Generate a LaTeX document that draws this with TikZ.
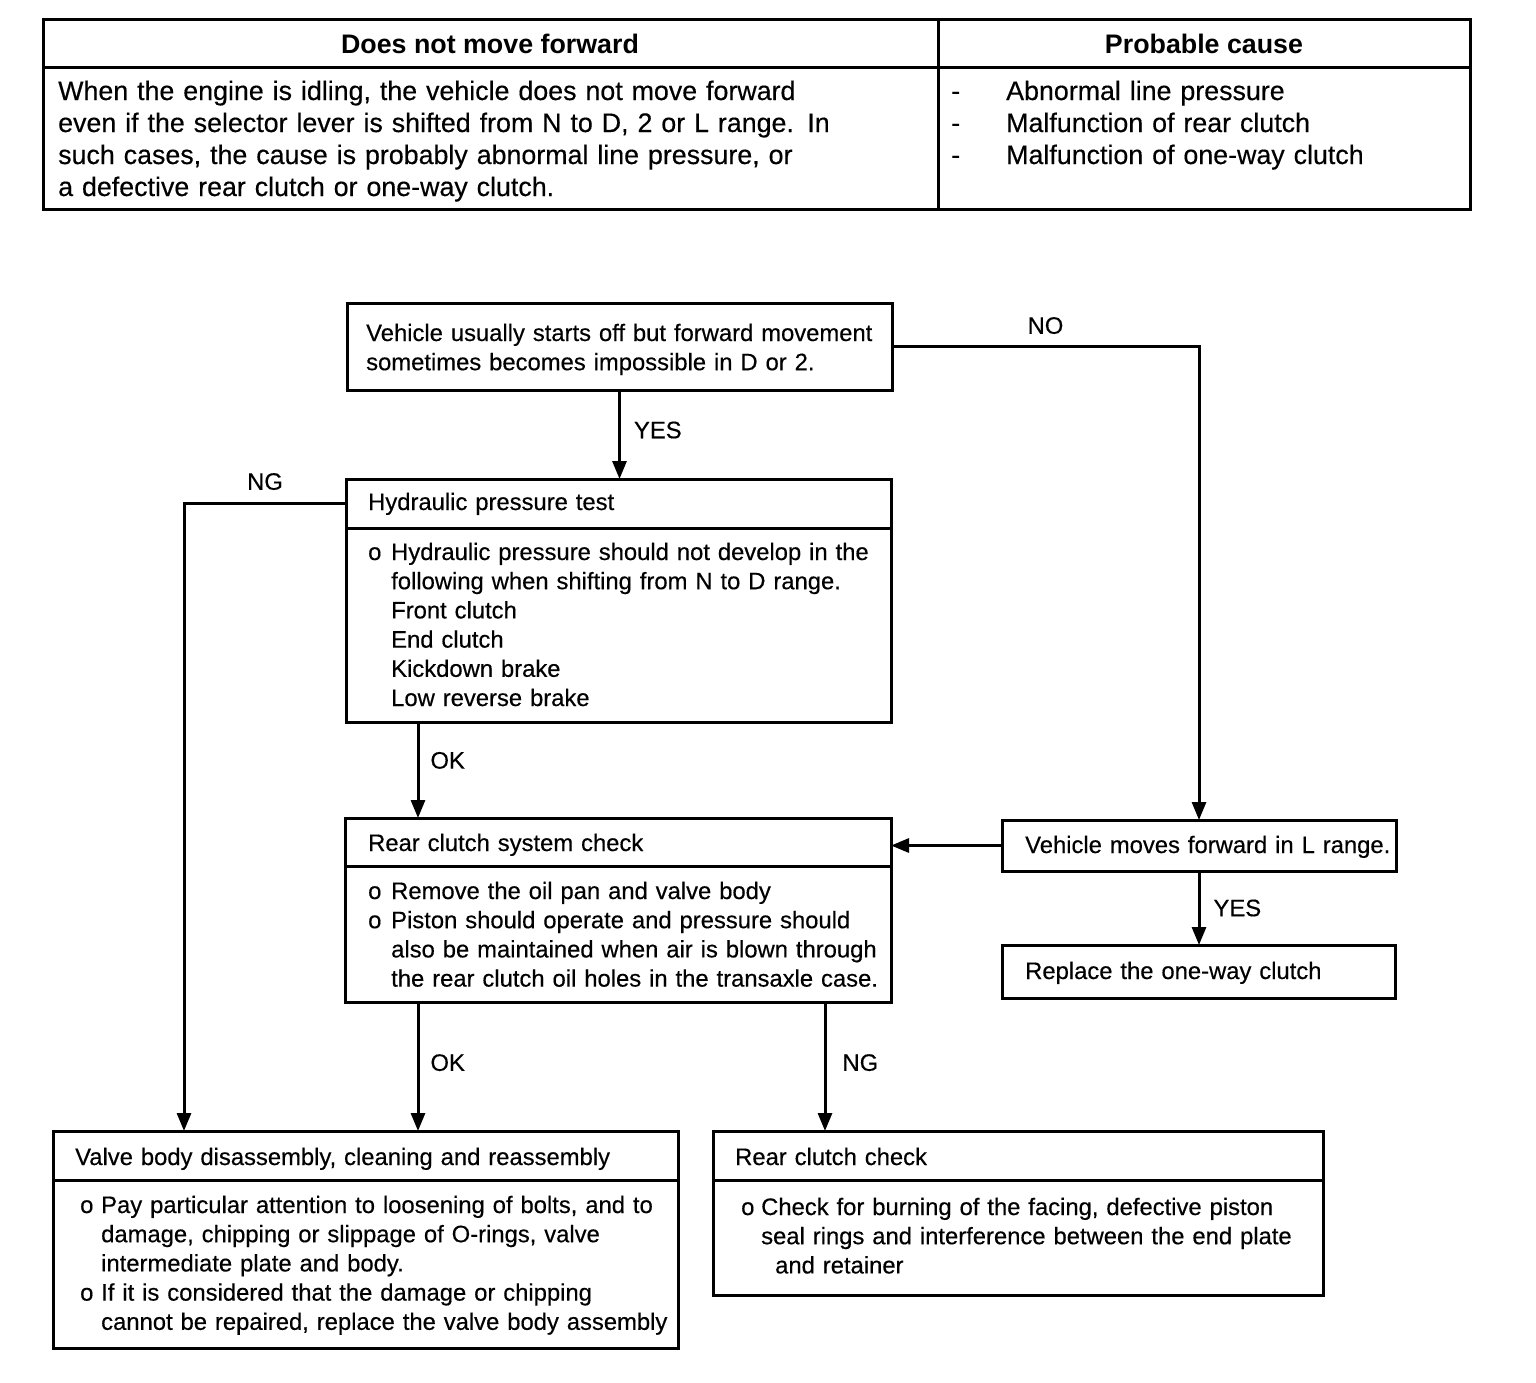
\documentclass[tikz,border=0pt]{standalone}
\usepackage{fontspec}
\setmainfont{Liberation Sans}[UprightFeatures={FakeBold=0.4}]
\usetikzlibrary{arrows.meta,calc,positioning}

\newcommand{\flowfont}{\fontsize{23.8}{29.2}\selectfont}
\newcommand{\tabfont}{\fontsize{26.8}{32}\selectfont}
% bullet and hanging indent
\newcommand{\bl}[1][23pt]{\makebox[#1][l]{o}}
\newcommand{\ind}[1][23pt]{\hspace*{#1}}

\tikzset{
  frame/.style={draw, line width=3pt},
  box/.style={frame, anchor=north west, inner sep=0pt, outer sep=0pt},
  txt/.style={anchor=base west, inner sep=0pt, align=left, text width=900pt, font=\flowfont},
  tabtxt/.style={txt, font=\tabfont},
  lbl/.style={inner sep=0pt, font=\flowfont},
  arr/.style={line width=3pt, -{Triangle[length=18pt,width=14pt]}}
}

\begin{document}
\begin{tikzpicture}[x=1pt,y=-1pt]
  \useasboundingbox (0,0) rectangle (1536,1382);

  % table at the top
  \draw[frame] (43,19) rectangle (1470,209);
  \draw[frame] (43,67) -- (1470,67);
  \draw[frame] (938,19) -- (938,209);
  \node[lbl, anchor=base, font=\tabfont\bfseries] (head1) at (490,53) {Does not move forward};
  \node[lbl, anchor=base, font=\tabfont\bfseries] (head2) at (1204,53) {Probable cause};
  \node[tabtxt] (desc) at (58,100) {When the engine is idling, the vehicle does not move forward\\
    even if the selector lever is shifted from N to D, 2 or L range. In\\
    such cases, the cause is probably abnormal line pressure, or\\
    a defective rear clutch or one-way clutch.};
  \node[tabtxt] (cause) at (951,100) {\makebox[55pt][l]{-}Abnormal line pressure\\
    \makebox[55pt][l]{-}Malfunction of rear clutch\\
    \makebox[55pt][l]{-}Malfunction of one-way clutch};

  % boxes
  \node[box, minimum width=545pt, minimum height=87pt] (vehq) at (347,303) {};
  \node[txt] (vehq-t) at (366,341) {Vehicle usually starts off but forward movement\\
    sometimes becomes impossible in D or 2.};

  \node[box, minimum width=545pt, minimum height=49pt] (hydt) at (346,479) {};
  \node[box, minimum width=545pt, minimum height=194pt, below=0pt of hydt] (hydb) {};
  \node[txt] (hydt-t) at (368,510) {Hydraulic pressure test};
  \node[txt] (hydb-t) at (368,560) {\bl Hydraulic pressure should not develop in the\\
    \ind following when shifting from N to D range.\\
    \ind Front clutch\\
    \ind End clutch\\
    \ind Kickdown brake\\
    \ind Low reverse brake};

  \node[box, minimum width=546pt, minimum height=48pt] (reart) at (345,818) {};
  \node[box, minimum width=546pt, minimum height=136pt, below=0pt of reart] (rearb) {};
  \node[txt] (reart-t) at (368,851) {Rear clutch system check};
  \node[txt] (rearb-t) at (368,899) {\bl Remove the oil pan and valve body\\
    \bl Piston should operate and pressure should\\
    \ind also be maintained when air is blown through\\
    \ind the rear clutch oil holes in the transaxle case.};

  \node[box, minimum width=394pt, minimum height=51pt] (moveL) at (1002,820) {};
  \node[txt] (moveL-t) at (1025,853) {Vehicle moves forward in L range.};

  \node[box, minimum width=393pt, minimum height=53pt] (onew) at (1002,945) {};
  \node[txt] (onew-t) at (1025,979) {Replace the one-way clutch};

  \node[box, minimum width=625pt, minimum height=49pt] (valvet) at (53,1131) {};
  \node[box, minimum width=625pt, minimum height=168pt, below=0pt of valvet] (valveb) {};
  \node[txt] (valvet-t) at (75,1165) {Valve body disassembly, cleaning and reassembly};
  \node[txt] (valveb-t) at (80,1213) {\bl[21pt]Pay particular attention to loosening of bolts, and to\\
    \ind[21pt]damage, chipping or slippage of O-rings, valve\\
    \ind[21pt]intermediate plate and body.\\
    \bl[21pt]If it is considered that the damage or chipping\\
    \ind[21pt]cannot be repaired, replace the valve body assembly};

  \node[box, minimum width=610pt, minimum height=49pt] (rclt) at (713,1131) {};
  \node[box, minimum width=610pt, minimum height=115pt, below=0pt of rclt] (rclb) {};
  \node[txt] (rclt-t) at (735,1165) {Rear clutch check};
  \node[txt] (rclb-t) at (741,1215) {\bl[20pt]Check for burning of the facing, defective piston\\
    \ind[20pt]seal rings and interference between the end plate\\
    \ind[34pt]and retainer};

  % connectors
  \draw[arr] (vehq.south) -- (vehq.south |- hydt.north) node[lbl, pos=0.45, right=13pt] {YES};
  \draw[arr] (vehq.east) -| (moveL.north) node[lbl, pos=0.25, above=11pt] {NO};
  \draw[arr] (hydt.west) -| ([xshift=131pt]valvet.north west) node[lbl, pos=0.25, above=12pt] {NG};
  \draw[arr] ([xshift=72pt]hydb.south west) -- ([xshift=73pt]reart.north west) node[lbl, pos=0.4, right=11pt] {OK};
  \draw[arr] (moveL.west) -- (moveL.west -| reart.east);
  \draw[arr] (moveL.south) -- (moveL.south |- onew.north) node[lbl, midway, right=13pt] {YES};
  \draw[arr] ([xshift=73pt]rearb.south west) -- ([xshift=365pt]valvet.north west) node[lbl, pos=0.47, right=11pt] {OK};
  \draw[arr] ([xshift=480pt]rearb.south west) -- ([xshift=112pt]rclt.north west) node[lbl, pos=0.47, right=16pt] {NG};
\end{tikzpicture}
\end{document}
